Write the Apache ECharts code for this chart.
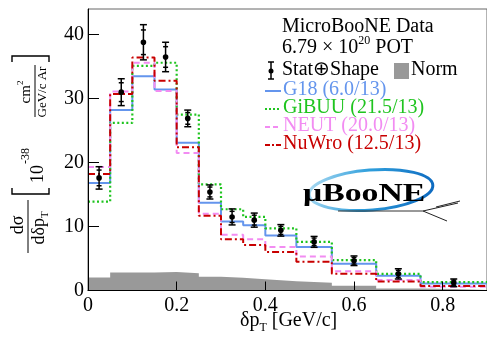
<!DOCTYPE html>
<html><head><meta charset="utf-8">
<script src="https://cdn.jsdelivr.net/npm/echarts@6/dist/echarts.min.js"></script>
<style>html,body{margin:0;padding:0;background:#fff}#c{width:487px;height:338px}</style>
</head><body><div id="c"></div>
<script>
// ---- data ----
const binEdges   = [0,0.05,0.1,0.15,0.2,0.25,0.3,0.35,0.4,0.47,0.55,0.65,0.75,0.9];
const binCenters = [0.025,0.075,0.125,0.175,0.225,0.275,0.325,0.375,0.435,0.51,0.60,0.70,0.825];
const dataValues = [17.6,31.0,38.8,36.5,26.9,15.4,11.5,11.0,9.4,7.6,4.65,2.6,1.2];
const dataErrors = [1.75,2.1,2.75,2.3,1.3,1.1,1.25,1.1,0.9,0.85,0.75,0.8,0.6];
const g18Values   = [16.8,28.2,33.5,31.4,23.1,13.7,10.8,10.2,8.6,6.8,4.2,2.3,1.1];
const gibuuValues = [13.9,26.2,35.1,35.6,27.5,16.6,12.7,11.5,9.7,7.6,4.75,2.6,1.3];
const neutValues  = [19.3,31.1,35.6,31.2,21.5,12.0,8.7,8.0,6.8,5.3,3.0,1.65,0.6];
const nuwroValues = [18.2,30.7,36.4,32.8,22.4,11.7,8.0,7.1,6.0,4.5,2.6,1.4,0.7];
const normValues  = [2.05,2.8,2.8,2.9,2.7,2.15,2.0,1.75,1.45,1.2,0.75,0.3,0.15];
const legendNames = ['G18 (6.0/13)','GiBUU (21.5/13)','NEUT (20.0/13)','NuWro (12.5/13)'];
const xTickValues = [0,0.2,0.4,0.6,0.8];
const yTickValues = [0,10,20,30,40];

// ---- styles ----
const FONT = '"Liberation Serif","Times New Roman",serif';
const C_G18 = '#6495ed', C_GIBUU = '#1fc41f', C_NEUT = '#f28cf2', C_NUWRO = '#c80000';

const ctx = document.createElement('canvas').getContext('2d');
function tw(t, size, weight){ ctx.font = (weight||'normal')+' '+size+'px '+FONT; return ctx.measureText(t).width; }
function txt(t, x, y, size, color, align, weight){
  return {type:'text', x:x, y:y, style:{text:t, fontSize:size, fontFamily:FONT, fontWeight:weight||'normal',
    fill:color||'#000', textAlign:align||'left', align:align||'left', textVerticalAlign:'middle', verticalAlign:'middle'}};
}
function seq(x, y, parts, color, center){
  let total = 0; parts.forEach(p=> total += tw(p.t, p.size));
  let cx = center ? x - total/2 : x;
  const out = [];
  parts.forEach(p=>{ out.push(txt(p.t, cx, y + (p.dy||0), p.size, color, 'left')); cx += tw(p.t, p.size); });
  return out;
}
function stepData(vals){ return binEdges.map((e,i)=>[e, vals[Math.min(i, vals.length-1)]]); }
function lineEl(x1,y1,x2,y2,color,w,dash){
  return {type:'line', shape:{x1,y1,x2,y2}, style:{stroke:color, lineWidth:w||1, lineDash:dash||null}};
}

// ---- y title (rotated group, local x = 313 - screenY, local y = screenX) ----
const yTitle = [].concat(
  seq(88, 18.5, [{t:'dσ', size:18}], '#000', true),
  [lineEl(60,28,113,28,'#000',1)],
  seq(85, 39, [{t:'dδp', size:18},{t:'T', size:11, dy:6}], '#000', true),
  [{type:'polyline', shape:{points:[[125,12],[119,12],[119,49],[125,49]]}, style:{stroke:'#000', lineWidth:1.4, fill:null}}],
  seq(130, 38, [{t:'10', size:18}], '#000', false),
  seq(149, 26, [{t:'-38', size:12}], '#000', false),
  seq(221, 26, [{t:'cm', size:15},{t:'2', size:9, dy:-5}], '#000', true),
  [lineEl(196,35,248,35,'#000',1)],
  seq(221, 43, [{t:'GeV/c Ar', size:13}], '#000', true),
  [{type:'polyline', shape:{points:[[251,12],[257,12],[257,49],[251,49]]}, style:{stroke:'#000', lineWidth:1.4, fill:null}}]
);

// ---- legend ----
const legend = [].concat(
  seq(282, 27, [{t:'MicroBooNE Data', size:20}], '#000'),
  seq(282, 48, [{t:'6.79 × 10', size:20},{t:'20', size:12, dy:-7},{t:' POT', size:20}], '#000'),
  seq(282, 70, [{t:'Stat⊕Shape', size:20}], '#000'),
  [{type:'rect', shape:{x:394,y:63,width:15,height:16}, style:{fill:'#999'}}],
  seq(411, 70, [{t:'Norm', size:20}], '#000'),
  [lineEl(271,62,271,79,'#000',1.5), lineEl(268,62,274,62,'#000',1.5), lineEl(268,79,274,79,'#000',1.5),
   {type:'circle', shape:{cx:271,cy:71,r:2.5}, style:{fill:'#000'}}],
  [lineEl(265,91,281,91,C_G18,2)], seq(283, 90, [{t:legendNames[0], size:20}], C_G18),
  [lineEl(265,109,281,109,C_GIBUU,2,[2,2])], seq(283, 108, [{t:legendNames[1], size:20}], C_GIBUU),
  [lineEl(265,127,281,127,C_NEUT,2,[5,3])], seq(283, 126, [{t:legendNames[2], size:20}], C_NEUT),
  [lineEl(265,145,281,145,C_NUWRO,2,[5,2,2,2])], seq(283, 144, [{t:legendNames[3], size:20}], C_NUWRO)
);

// ---- logo ----
const logo = [
  {type:'ellipse', x:371, y:190, rotation:0.08, shape:{cx:0,cy:0,rx:62,ry:20},
   style:{fill:null, stroke:new echarts.graphic.LinearGradient(0,0,1,1,[{offset:0,color:'#b8e0f4'},{offset:0.45,color:'#2f9fdc'},{offset:1,color:'#0a64bd'}]), lineWidth:3}},
  lineEl(338,211,423,211,'#333',1),
  lineEl(423,211,458,203,'#222',1), lineEl(423,211,447,221,'#222',1), lineEl(436,207,460,201,'#222',1),
  {type:'text', x:303, y:195, scaleX:1.35, style:{text:'μBooNE', fontSize:25, fontWeight:'bold', fontFamily:FONT, fill:'#000',
    textAlign:'left', align:'left', textVerticalAlign:'middle', verticalAlign:'middle'}}
];

// ---- x title ----
const xTitle = seq(240, 321, [{t:'δp', size:20},{t:'T', size:12, dy:7},{t:' [GeV/c]', size:20}], '#000');

const chart = echarts.init(document.getElementById('c'), null, {renderer:'canvas'});
chart.setOption({
  animation:false,
  backgroundColor:'#fff',
  grid:{left:88, top:9, right:-4.6, bottom:47.5, show:true, borderColor:'#666', borderWidth:1, containLabel:false},
  xAxis:{type:'value', min:0, max:0.9, interval:0.2, z:10,
    axisLine:{show:true, lineStyle:{color:'#000', width:1}},
    axisTick:{show:true, inside:true, length:9, lineStyle:{color:'#000', width:1}},
    splitLine:{show:false},
    axisLabel:{fontSize:20, fontFamily:FONT, color:'#000', margin:5, showMaxLabel:false,
      formatter: v => xTickValues.some(t=>Math.abs(t-v)<1e-9) ? String(+v.toFixed(1)) : ''}},
  yAxis:{type:'value', min:0, max:44, interval:10, z:10,
    axisLine:{show:true, lineStyle:{color:'#000', width:1}},
    axisTick:{show:true, inside:true, length:11, lineStyle:{color:'#000', width:1}},
    splitLine:{show:false},
    axisLabel:{fontSize:20, fontFamily:FONT, color:'#000', margin:4, showMaxLabel:false,
      formatter: v => yTickValues.includes(v) ? String(v) : ''}},
  series:[
    {type:'line', step:'end', data:stepData(normValues), symbol:'none', silent:true, z:1,
     lineStyle:{width:0, color:'#999'}, areaStyle:{color:'#999', opacity:1}},
    {type:'line', step:'end', data:stepData(g18Values), symbol:'none', silent:true, z:2,
     lineStyle:{color:C_G18, width:2}},
    {type:'line', step:'end', data:stepData(gibuuValues), symbol:'none', silent:true, z:2,
     lineStyle:{color:C_GIBUU, width:2.2, type:[2,2.5]}},
    {type:'line', step:'end', data:stepData(neutValues), symbol:'none', silent:true, z:2,
     lineStyle:{color:C_NEUT, width:2, type:[6,4]}},
    {type:'line', step:'end', data:stepData(nuwroValues), symbol:'none', silent:true, z:2,
     lineStyle:{color:C_NUWRO, width:2, type:[7,3,2,3]}},
    {type:'custom', silent:true, z:3,
     data: binCenters.map((x,i)=>[x, dataValues[i], dataErrors[i]]),
     renderItem:(params, api)=>{
       const x = api.value(0), v = api.value(1), e = api.value(2);
       const p = api.coord([x, v]);
       const t = api.coord([x, v+e])[1], b = api.coord([x, v-e])[1];
       const ti = api.coord([x, v+0.7*e])[1], bi = api.coord([x, v-0.7*e])[1];
       const st = {stroke:'#000', lineWidth:1.5};
       const cap = (y,w)=>({type:'line', shape:{x1:p[0]-w,y1:y,x2:p[0]+w,y2:y}, style:st});
       return {type:'group', children:[
         {type:'line', shape:{x1:p[0],y1:t,x2:p[0],y2:b}, style:st},
         cap(t,3.5), cap(b,3.5), cap(ti,2.5), cap(bi,2.5),
         {type:'circle', shape:{cx:p[0], cy:p[1], r:2.8}, style:{fill:'#000'}}
       ]};
     }}
  ],
  graphic:[
    {type:'group', x:0, y:313, rotation:Math.PI/2, children:yTitle, silent:true},
    {type:'group', children:legend, silent:true},
    {type:'group', children:logo, silent:true},
    {type:'group', children:xTitle, silent:true}
  ]
});
</script></body></html>
